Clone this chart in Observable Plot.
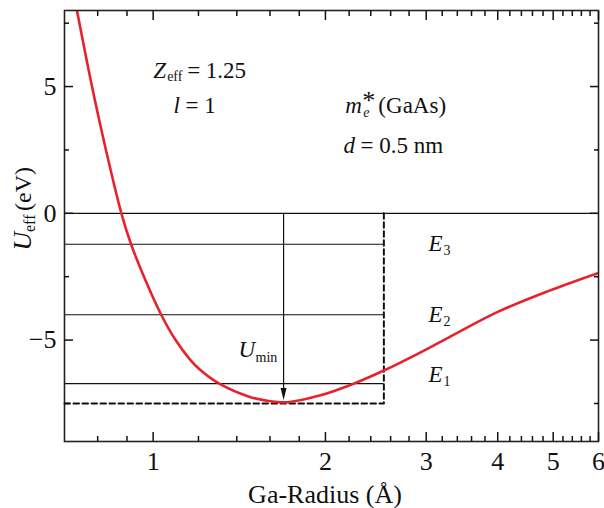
<!DOCTYPE html>
<html>
<head>
<meta charset="utf-8">
<script src="https://cdn.jsdelivr.net/npm/d3@7"></script>
<script src="https://cdn.jsdelivr.net/npm/@observablehq/plot@0.6"></script>
<style>
  html, body { margin: 0; padding: 0; background: #fff; }
  #chart { width: 604px; height: 508px; }
  #chart svg, #chart svg text, #chart svg g {
    font-family: "Liberation Serif", "DejaVu Serif", "Tinos", "Times New Roman", Times, serif !important;
  }
</style>
</head>
<body>
<div id="chart"></div>
<script>
// ---- data ----
const radius = [0.736, 0.782, 0.827, 0.88, 0.915, 0.97, 1.033, 1.093, 1.16, 1.205, 1.305, 1.48, 1.63, 1.72, 1.96, 2.24, 2.53, 2.86, 3.27, 4.0, 4.9, 6.0];
const uEff   = [8.0, 5.0, 2.5, 0, -1.22, -2.65, -4.0, -4.98, -5.77, -6.15, -6.72, -7.25, -7.43, -7.45, -7.18, -6.72, -6.2, -5.61, -4.92, -3.89, -3.07, -2.35];

const levelIndex  = ["1", "2", "3"];
const levelEnergy = [-6.72, -4.0, -1.22];
const wellRadius = 2.53;
const wellBottom = -7.5;
const uMinRadius = 1.69;
const uMinValue = -7.36;

const xDomain = [0.7, 6];
const yDomain = [-9, 8];
const xMajorTicks = [1, 2, 3, 4, 5, 6];
const xMinorTicks = [0.8, 0.9, 1.2, 1.4, 1.6, 1.8, 2.2, 2.4, 2.6, 2.8, 3.2, 3.4, 3.6, 3.8, 4.2, 4.4, 4.6, 4.8, 5.2, 5.4, 5.6, 5.8];
const yMajorTicks = [-5, 0, 5];
const yMinorTicks = [-7.5, -2.5, 2.5, 7.5];

// annotation anchors (data coordinates)
const levelLabelX = 3.027;
const levelLabelY = [-6.66, -4.30, -1.47];

// ---- build ----
const curve = radius.map((r, i) => ({r, u: uEff[i]}));
const levels = levelEnergy.map((e, i) => ({e, idx: levelIndex[i], ly: levelLabelY[i]}));
const well = [
  {r: xDomain[0], u: wellBottom},
  {r: wellRadius, u: wellBottom},
  {r: wellRadius, u: 0}
];

const serif = "Liberation Serif, DejaVu Serif, Tinos, Times New Roman, serif";
const ink = "#111";

function piece(x, y, text, {dx = 0, dy = 0, fs = 23, italic = false} = {}) {
  return Plot.text([{x, y}], {
    x: "x", y: "y", text: () => text,
    dx, dy, fontSize: fs, fontStyle: italic ? "italic" : "normal", fontFamily: serif,
    textAnchor: "start", lineAnchor: "bottom", fill: ink
  });
}
function framePiece(text, {dx = 0, dy = 0, fs = 26, italic = false, rotate = 0, textAnchor = "start"} = {}) {
  return Plot.text([0], {
    frameAnchor: rotate ? "left" : "bottom", text: () => text,
    dx, dy, rotate, fontSize: fs, fontStyle: italic ? "italic" : "normal", fontFamily: serif,
    textAnchor, lineAnchor: "bottom", fill: ink
  });
}

const minusFmt = d => d < 0 ? "\u2212" + Math.abs(d) : String(d);
const blank = () => "";

const chart = Plot.plot({
  width: 604,
  height: 508,
  marginLeft: 64,
  marginRight: 6,
  marginTop: 10,
  marginBottom: 67,
  x: {type: "log", domain: xDomain, label: null},
  y: {domain: yDomain, label: null},
  style: {"font-family": serif, color: ink, background: "#fff", overflow: "visible"},
  marks: [
    // energy levels
    Plot.ruleY([0], {stroke: ink, strokeWidth: 1.2}),
    Plot.ruleY(levels, {y: "e", x1: xDomain[0], x2: wellRadius, stroke: ink, strokeWidth: 1.2}),
    // dashed well
    Plot.line(well, {x: "r", y: "u", stroke: ink, strokeWidth: 2, strokeDasharray: "5.5,3.5"}),
    // effective potential
    Plot.line(curve, {x: "r", y: "u", stroke: "#e8222c", strokeWidth: 2.6, curve: "catmull-rom", clip: true}),
    // U_min arrow
    Plot.ruleX([{x: uMinRadius, y1: 0, y2: uMinValue + 0.3}], {x: "x", y1: "y1", y2: "y2", stroke: ink, strokeWidth: 1.2}),
    Plot.dot([{x: uMinRadius, y: uMinValue}], {
      x: "x", y: "y", fill: ink, stroke: null,
      symbol: {draw(ctx) { ctx.moveTo(0, 0); ctx.lineTo(-3, -12); ctx.lineTo(3, -12); ctx.closePath(); }}
    }),
    // frame
    Plot.frame({stroke: "#222", strokeWidth: 1.6}),
    // axes: ticks inward
    Plot.axisX(xMajorTicks, {anchor: "bottom", tickSize: -9, tickPadding: 19, tickFormat: d => String(d), fontSize: 26, fontFamily: serif, strokeWidth: 1.5, label: null}),
    Plot.axisX(xMinorTicks, {anchor: "bottom", tickSize: -5, tickFormat: blank, strokeWidth: 1.5, label: null}),
    Plot.axisX(xMajorTicks, {anchor: "top", tickSize: -9, tickFormat: blank, strokeWidth: 1.5, label: null}),
    Plot.axisX(xMinorTicks, {anchor: "top", tickSize: -5, tickFormat: blank, strokeWidth: 1.5, label: null}),
    Plot.axisY(yMajorTicks, {anchor: "left", tickSize: -9, tickPadding: 17, tickFormat: minusFmt, fontSize: 26, fontFamily: serif, strokeWidth: 1.5, label: null}),
    Plot.axisY(yMinorTicks, {anchor: "left", tickSize: -5, tickFormat: blank, strokeWidth: 1.5, label: null}),
    Plot.axisY(yMajorTicks, {anchor: "right", tickSize: -9, tickFormat: blank, strokeWidth: 1.5, label: null}),
    Plot.axisY(yMinorTicks, {anchor: "right", tickSize: -5, tickFormat: blank, strokeWidth: 1.5, label: null}),
    // axis titles
    framePiece("Ga-Radius (\u00C5)", {dx: -6.5, dy: 61, fs: 26, textAnchor: "middle"}),
    framePiece("U", {rotate: -90, dx: -34, dy: 24.5, fs: 26, italic: true}),
    framePiece("eff", {rotate: -90, dx: -30, dy: 6, fs: 16}),
    framePiece("(eV)", {rotate: -90, dx: -34, dy: -15, fs: 24}),
    // parameter annotations
    piece(1.0, 5.34, "Z", {italic: true}),
    piece(1.0, 5.34, "eff", {dx: 14, dy: 3, fs: 14}),
    piece(1.0, 5.34, "= 1.25", {dx: 34}),
    piece(1.085, 3.94, "l", {italic: true}),
    piece(1.085, 3.94, "= 1", {dx: 12}),
    piece(2.167, 3.94, "m", {italic: true}),
    piece(2.167, 3.94, "*", {dx: 17, dy: -4, fs: 26}),
    piece(2.167, 3.94, "e", {dx: 18, dy: 4, fs: 14, italic: true}),
    piece(2.167, 3.94, "(GaAs)", {dx: 33}),
    piece(2.15, 2.36, "d", {italic: true}),
    piece(2.15, 2.36, "= 0.5 nm", {dx: 17}),
    // level labels
    Plot.text(levels, {x: () => levelLabelX, y: "ly", text: () => "E", fontSize: 23, fontStyle: "italic", fontFamily: serif, textAnchor: "start", lineAnchor: "bottom", fill: ink}),
    Plot.text(levels, {x: () => levelLabelX, y: "ly", text: "idx", dx: 15, dy: 4, fontSize: 14, fontFamily: serif, textAnchor: "start", lineAnchor: "bottom", fill: ink}),
    // U_min label
    piece(1.41, -5.68, "U", {italic: true}),
    piece(1.41, -5.68, "min", {dx: 17, dy: 5, fs: 14})
  ]
});
document.getElementById("chart").appendChild(chart);
</script>
</body>
</html>
